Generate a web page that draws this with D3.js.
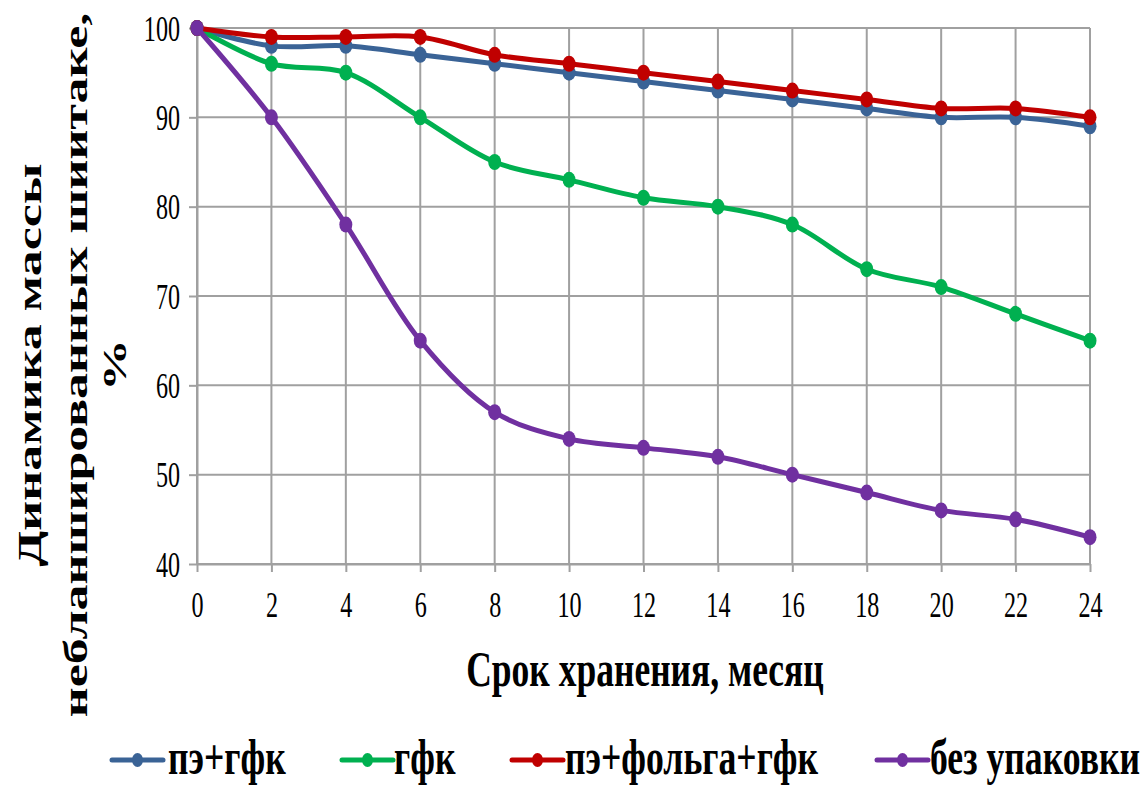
<!DOCTYPE html>
<html>
<head>
<meta charset="utf-8">
<script src="https://cdn.jsdelivr.net/npm/d3@7"></script>
<style>
  html, body { margin: 0; padding: 0; background: #fff; }
  svg { display: block; }
  svg text { font-family: "Liberation Serif", "DejaVu Serif", serif; fill: #000; }
</style>
</head>
<body>
<svg id="chart" width="1148" height="787"></svg>
<script>
const months = [0, 2, 4, 6, 8, 10, 12, 14, 16, 18, 20, 22, 24];
const seriesNames = ["пэ+гфк", "гфк", "пэ+фольга+гфк", "без упаковки"];
const peGfk      = [100, 98, 98, 97, 96, 95, 94, 93, 92, 91, 90, 90, 89];
const gfk        = [100, 96, 95, 90, 85, 83, 81, 80, 78, 73, 71, 68, 65];
const peFoilGfk  = [100, 99, 99, 99, 97, 96, 95, 94, 93, 92, 91, 91, 90];
const noPack     = [100, 90, 78, 65, 57, 54, 53, 52, 50, 48, 46, 45, 43];
const seriesColors = ["#3a6396", "#00b050", "#c00000", "#7030a0"];
const yTicks = [40, 50, 60, 70, 80, 90, 100];
const xTicks = months;
const xTitle = "Срок хранения, месяц";
const yTitleLines = ["Динамика массы", "небланшированных шиитаке,", "%"];

const seriesValues = [peGfk, gfk, peFoilGfk, noPack];
const FONT = "'Liberation Serif', 'DejaVu Serif', serif";

const svg = d3.select("#chart");
const SX = 0.67; // horizontal squeeze of the original picture

const x = d3.scaleLinear().domain([0, 24]).range([197, 1090]);
const y = d3.scaleLinear().domain([40, 100]).range([564, 28]);

// grid
const grid = svg.append("g");
grid.selectAll("line.v").data(xTicks).join("line")
  .attr("x1", d => x(d)).attr("x2", d => x(d))
  .attr("y1", y(100)).attr("y2", y(40))
  .attr("stroke", "#a0a0a0").attr("stroke-width", 2);
grid.selectAll("line.h").data(yTicks).join("line")
  .attr("x1", x(0)).attr("x2", x(24))
  .attr("y1", d => y(d)).attr("y2", d => y(d))
  .attr("stroke", "#a0a0a0").attr("stroke-width", 2);

// axes
const xAxis = svg.append("g").attr("transform", `translate(0,${y(40)})`)
  .call(d3.axisBottom(x).tickValues(xTicks).tickSize(8).tickSizeOuter(0));
const yAxis = svg.append("g").attr("transform", `translate(${x(0)},0)`)
  .call(d3.axisLeft(y).tickValues(yTicks).tickSize(8).tickSizeOuter(0));
[xAxis, yAxis].forEach(a => {
  a.select(".domain").attr("stroke", "#a0a0a0").attr("stroke-width", 2);
  a.selectAll(".tick line").attr("stroke", "#a0a0a0").attr("stroke-width", 2);
  a.attr("font-family", FONT).attr("font-size", null);
});
xAxis.selectAll(".tick text")
  .attr("x", null).attr("y", null).attr("dy", null)
  .attr("text-anchor", "middle")
  .style("font-family", FONT)
  .style("font-size", "36px")
  .attr("transform", `translate(0,53) scale(${SX},1)`);
yAxis.selectAll(".tick text")
  .attr("x", null).attr("y", null).attr("dy", null)
  .attr("text-anchor", "end")
  .style("font-family", FONT)
  .style("font-size", "36px")
  .attr("transform", `translate(-17,12) scale(${SX},1)`);

// lines
const line = d3.line()
  .x((d, i) => x(months[i]))
  .y(d => y(d))
  .curve(d3.curveCatmullRom.alpha(0.5));

seriesValues.forEach((vals, si) => {
  const g = svg.append("g");
  g.append("path").datum(vals)
    .attr("d", line)
    .attr("fill", "none")
    .attr("stroke", seriesColors[si])
    .attr("stroke-width", 5)
    .attr("stroke-linejoin", "round");
  g.selectAll("ellipse").data(vals).join("ellipse")
    .attr("cx", (d, i) => x(months[i]))
    .attr("cy", d => y(d))
    .attr("rx", 6.5).attr("ry", 8)
    .attr("fill", seriesColors[si]);
});

// x title
svg.append("text")
  .attr("text-anchor", "middle")
  .style("font-family", FONT)
  .style("font-weight", "bold")
  .style("font-size", "50px")
  .attr("transform", `translate(645,686) scale(0.71,1)`)
  .text(xTitle);

// y title
const yBase = [41, 87, 126];
yTitleLines.forEach((t, i) => {
  svg.append("text")
    .attr("text-anchor", "middle")
    .style("font-family", FONT)
    .style("font-weight", "bold")
    .style("font-size", "52px")
    .attr("transform", `translate(${yBase[i]},365) scale(0.65,1) rotate(-90)`)
    .text(t);
});

// legend
const legendItems = [
  { lx: 112, tx: 168 },
  { lx: 342, tx: 394 },
  { lx: 512, tx: 565 },
  { lx: 877, tx: 930 }
];
legendItems.forEach((it, i) => {
  const g = svg.append("g");
  g.append("line")
    .attr("x1", it.lx).attr("x2", it.lx + 51)
    .attr("y1", 760).attr("y2", 760)
    .attr("stroke", seriesColors[i]).attr("stroke-width", 5)
    .attr("stroke-linecap", "round");
  g.append("ellipse")
    .attr("cx", it.lx + 25.5).attr("cy", 760)
    .attr("rx", 5.5).attr("ry", 7)
    .attr("fill", seriesColors[i]);
  g.append("text")
    .style("font-family", FONT)
    .style("font-weight", "bold")
    .style("font-size", "51px")
    .attr("transform", `translate(${it.tx},774) scale(0.7,1)`)
    .text(seriesNames[i]);
});
</script>
</body>
</html>
